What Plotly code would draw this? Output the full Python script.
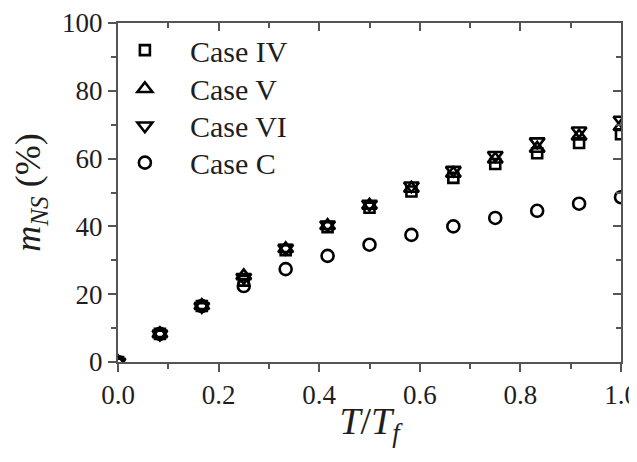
import plotly.graph_objects as go

x_vals = [0, 1/12, 2/12, 3/12, 4/12, 5/12, 6/12, 7/12, 8/12, 9/12, 10/12, 11/12, 1.0]
case_iv = [0, 8.3, 16.5, 24.0, 33.0, 39.8, 45.5, 50.3, 54.3, 58.4, 61.6, 64.6, 67.2]
case_v = [0, 8.3, 16.6, 25.4, 33.4, 40.2, 46.2, 51.2, 55.6, 59.8, 63.0, 66.6, 69.4]
case_vi = [0, 8.3, 16.4, 25.0, 33.6, 40.5, 46.6, 52.0, 56.6, 61.0, 65.0, 68.2, 71.4]
case_c = [0, 8.3, 16.5, 22.4, 27.4, 31.3, 34.6, 37.5, 40.0, 42.5, 44.6, 46.7, 48.6]

x_ticks = [0, 0.2, 0.4, 0.6, 0.8, 1.0]
y_ticks = [0, 20, 40, 60, 80, 100]

names = ["Case IV", "Case V", "Case VI", "Case C"]
symbols = ["square-open", "triangle-up-open", "triangle-down-open", "circle-open"]
series = [case_iv, case_v, case_vi, case_c]
sizes = [10, 13, 13, 12]

FONT = "Liberation Serif"
TXT = "#1e1e1e"
AX = "#555555"

legend_ids = ["legend", "legend2", "legend3", "legend4"]
legend_y = [0.920, 0.806, 0.697, 0.588]

fig = go.Figure()
for nm, sym, ys, sz, lg in zip(names, symbols, series, sizes, legend_ids):
    fig.add_trace(go.Scatter(
        x=x_vals, y=ys, mode="markers", name=nm, legend=lg,
        marker=dict(symbol=sym, size=sz, color="black", line=dict(color="black", width=2.6)),
        cliponaxis=True,
    ))
# helper trace for mirrored axes (inside ticks on top/right)
fig.add_trace(go.Scatter(x=[None], y=[None], xaxis="x2", yaxis="y2", showlegend=False, hoverinfo="skip"))

axis_common = dict(showgrid=False, zeroline=False, showline=True, linecolor=AX, linewidth=2,
                   tickcolor=AX, tickwidth=2, tickfont=dict(family=FONT, size=27, color=TXT),
                   automargin=False, ticklabeloverflow="allow")
mirror_common = dict(showticklabels=False, showgrid=False, zeroline=False, showline=True,
                     linecolor=AX, linewidth=2, tickcolor=AX, tickwidth=2, ticks="inside", ticklen=8,
                     automargin=False)

legend_style = dict(x=-0.036, xanchor="left", yanchor="middle", bgcolor="rgba(0,0,0,0)",
                    borderwidth=0, font=dict(family=FONT, size=30, color=TXT), itemwidth=80)

layout_legends = {lg: dict(y=ly, **legend_style) for lg, ly in zip(legend_ids, legend_y)}

# page body has an 8px margin; figure is shrunk to keep the 637x462 window layout
fig.update_layout(
    template="none",
    width=629, height=440,
    paper_bgcolor="white", plot_bgcolor="white",
    margin=dict(l=110, r=16, t=15, b=86),
    showlegend=True,
    xaxis=dict(range=[0, 1], tickvals=x_ticks, tickformat=".1f",
               ticks="outside", ticklen=8,
               minor=dict(ticks="outside", ticklen=5, dtick=0.1, tickcolor=AX, tickwidth=2),
               title=dict(text="<i>T</i>/<i>T</i><sub><i>f</i></sub>",
                          font=dict(family=FONT, size=38, color=TXT), standoff=8),
               **axis_common),
    yaxis=dict(range=[0, 100], tickvals=y_ticks,
               ticks="outside", ticklen=8,
               minor=dict(ticks="outside", ticklen=5, dtick=10, tickcolor=AX, tickwidth=2),
               title=dict(text="<i>m</i><sub><i>NS</i></sub> (%)",
                          font=dict(family=FONT, size=36, color=TXT), standoff=20),
               **axis_common),
    xaxis2=dict(range=[0, 1], overlaying="x", side="top", tickvals=x_ticks,
                minor=dict(ticks="inside", ticklen=5, dtick=0.1, tickcolor=AX, tickwidth=2),
                **mirror_common),
    yaxis2=dict(range=[0, 100], overlaying="y", side="right", tickvals=y_ticks,
                minor=dict(ticks="inside", ticklen=5, dtick=10, tickcolor=AX, tickwidth=2),
                **mirror_common),
    **layout_legends,
)

fig.write_html("out.html")
